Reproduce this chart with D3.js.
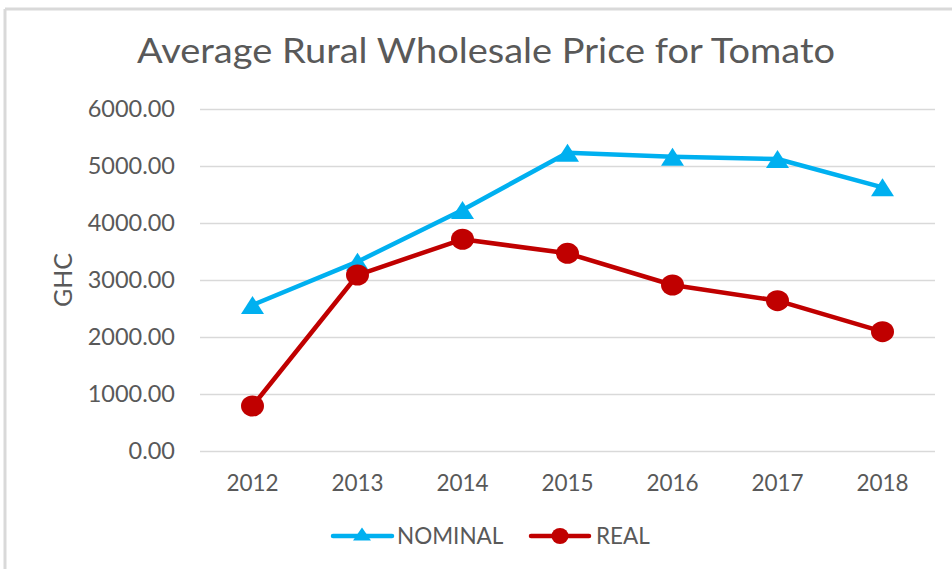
<!DOCTYPE html>
<html>
<head>
<meta charset="utf-8">
<script src="https://cdn.jsdelivr.net/npm/d3@7"></script>
<style>
  body { margin: 0; background: #fff; }
  text { font-family: Lato, "Open Sans", sans-serif; fill: #595959; }
</style>
</head>
<body>
<svg width="952" height="569"></svg>
<script>
// data
var years = ["2012", "2013", "2014", "2015", "2016", "2017", "2018"];
var nominal = [2556, 3316, 4223, 5228, 5158, 5118, 4621];
var real = [784, 3082, 3709, 3463, 2907, 2632, 2088];
var yTicks = [0, 1000, 2000, 3000, 4000, 5000, 6000];

var svg = d3.select("svg"),
	width = +svg.attr("width"),
	height = +svg.attr("height");

var blue = "#00b0f0", red = "#c00000", grid = "#d9d9d9";

// light frame, only top and left show in the picture
svg.append("line").attr("x1", 5).attr("x2", width).attr("y1", 9).attr("y2", 9)
	.style("stroke", grid).style("stroke-width", 3);
svg.append("line").attr("x1", 5).attr("x2", 5).attr("y1", 9).attr("y2", height)
	.style("stroke", grid).style("stroke-width", 3);

var x = d3.scaleBand().domain(years).range([200, 935]);
var y = d3.scaleLinear().domain([0, 6000]).range([450.7, 108.7]);

// grid
svg.append("g")
	.selectAll("line")
	.data(yTicks)
	.enter().append("line")
	.attr("x1", 200).attr("x2", 935)
	.attr("y1", function (d) { return Math.round(y(d)) + 0.5; })
	.attr("y2", function (d) { return Math.round(y(d)) + 0.5; })
	.style("stroke", grid).style("stroke-width", 1.5);

// y labels
svg.append("g")
	.selectAll("text")
	.data(yTicks)
	.enter().append("text")
	.attr("x", 175)
	.attr("y", function (d) { return y(d); })
	.attr("dy", "0.36em")
	.attr("text-anchor", "end")
	.style("font-size", "23.5px")
	.text(function (d) { return d3.format(".2f")(d); });

// x labels
svg.append("g")
	.selectAll("text")
	.data(years)
	.enter().append("text")
	.attr("x", function (d) { return x(d) + x.bandwidth() / 2; })
	.attr("y", 491)
	.attr("text-anchor", "middle")
	.style("font-size", "22.5px")
	.text(function (d) { return d; });

svg.append("text")
	.attr("transform", "translate(72,280) rotate(-90)")
	.attr("text-anchor", "middle")
	.style("font-size", "25px")
	.text("GHC");

svg.append("text")
	.attr("x", 137).attr("y", 63)
	.attr("textLength", 698)
	.attr("lengthAdjust", "spacingAndGlyphs")
	.style("font-size", "34px")
	.text("Average Rural Wholesale Price for Tomato");

function cx(d, i) { return x(years[i]) + x.bandwidth() / 2; }

var line = d3.line()
	.x(function (d, i) { return cx(d, i); })
	.y(function (d) { return y(d); });

function triangle(px, py, w, h) {
	return "M" + px + "," + (py - h / 2) + "L" + (px + w / 2) + "," + (py + h / 2) + "L" + (px - w / 2) + "," + (py + h / 2) + "Z";
}

svg.append("path").datum(nominal)
	.attr("d", line)
	.style("fill", "none").style("stroke", blue).style("stroke-width", 4.5)
	.style("stroke-linejoin", "round").style("stroke-linecap", "round");

svg.append("g").selectAll("path")
	.data(nominal)
	.enter().append("path")
	.attr("d", function (d, i) { return triangle(cx(d, i), y(d), 23, 18); })
	.style("fill", blue);

svg.append("path").datum(real)
	.attr("d", line)
	.style("fill", "none").style("stroke", red).style("stroke-width", 4.5)
	.style("stroke-linejoin", "round").style("stroke-linecap", "round");

svg.append("g").selectAll("ellipse")
	.data(real)
	.enter().append("ellipse")
	.attr("cx", function (d, i) { return cx(d, i); })
	.attr("cy", function (d) { return y(d); })
	.attr("rx", 11.5).attr("ry", 10.5)
	.style("fill", red);

// legend
var legend = svg.append("g");
legend.append("line").attr("x1", 333).attr("x2", 392).attr("y1", 536).attr("y2", 536)
	.style("stroke", blue).style("stroke-width", 4.5).style("stroke-linecap", "round");
legend.append("path").attr("d", triangle(362, 534, 18, 13)).style("fill", blue);
legend.append("text").attr("x", 397).attr("y", 536).attr("dy", "0.36em")
	.style("font-size", "22.5px").text("NOMINAL");

legend.append("line").attr("x1", 531).attr("x2", 589).attr("y1", 536).attr("y2", 536)
	.style("stroke", red).style("stroke-width", 4.5).style("stroke-linecap", "round");
legend.append("ellipse").attr("cx", 560).attr("cy", 536).attr("rx", 8.5).attr("ry", 8)
	.style("fill", red);
legend.append("text").attr("x", 596).attr("y", 536).attr("dy", "0.36em")
	.style("font-size", "22.5px").text("REAL");
</script>
</body>
</html>
